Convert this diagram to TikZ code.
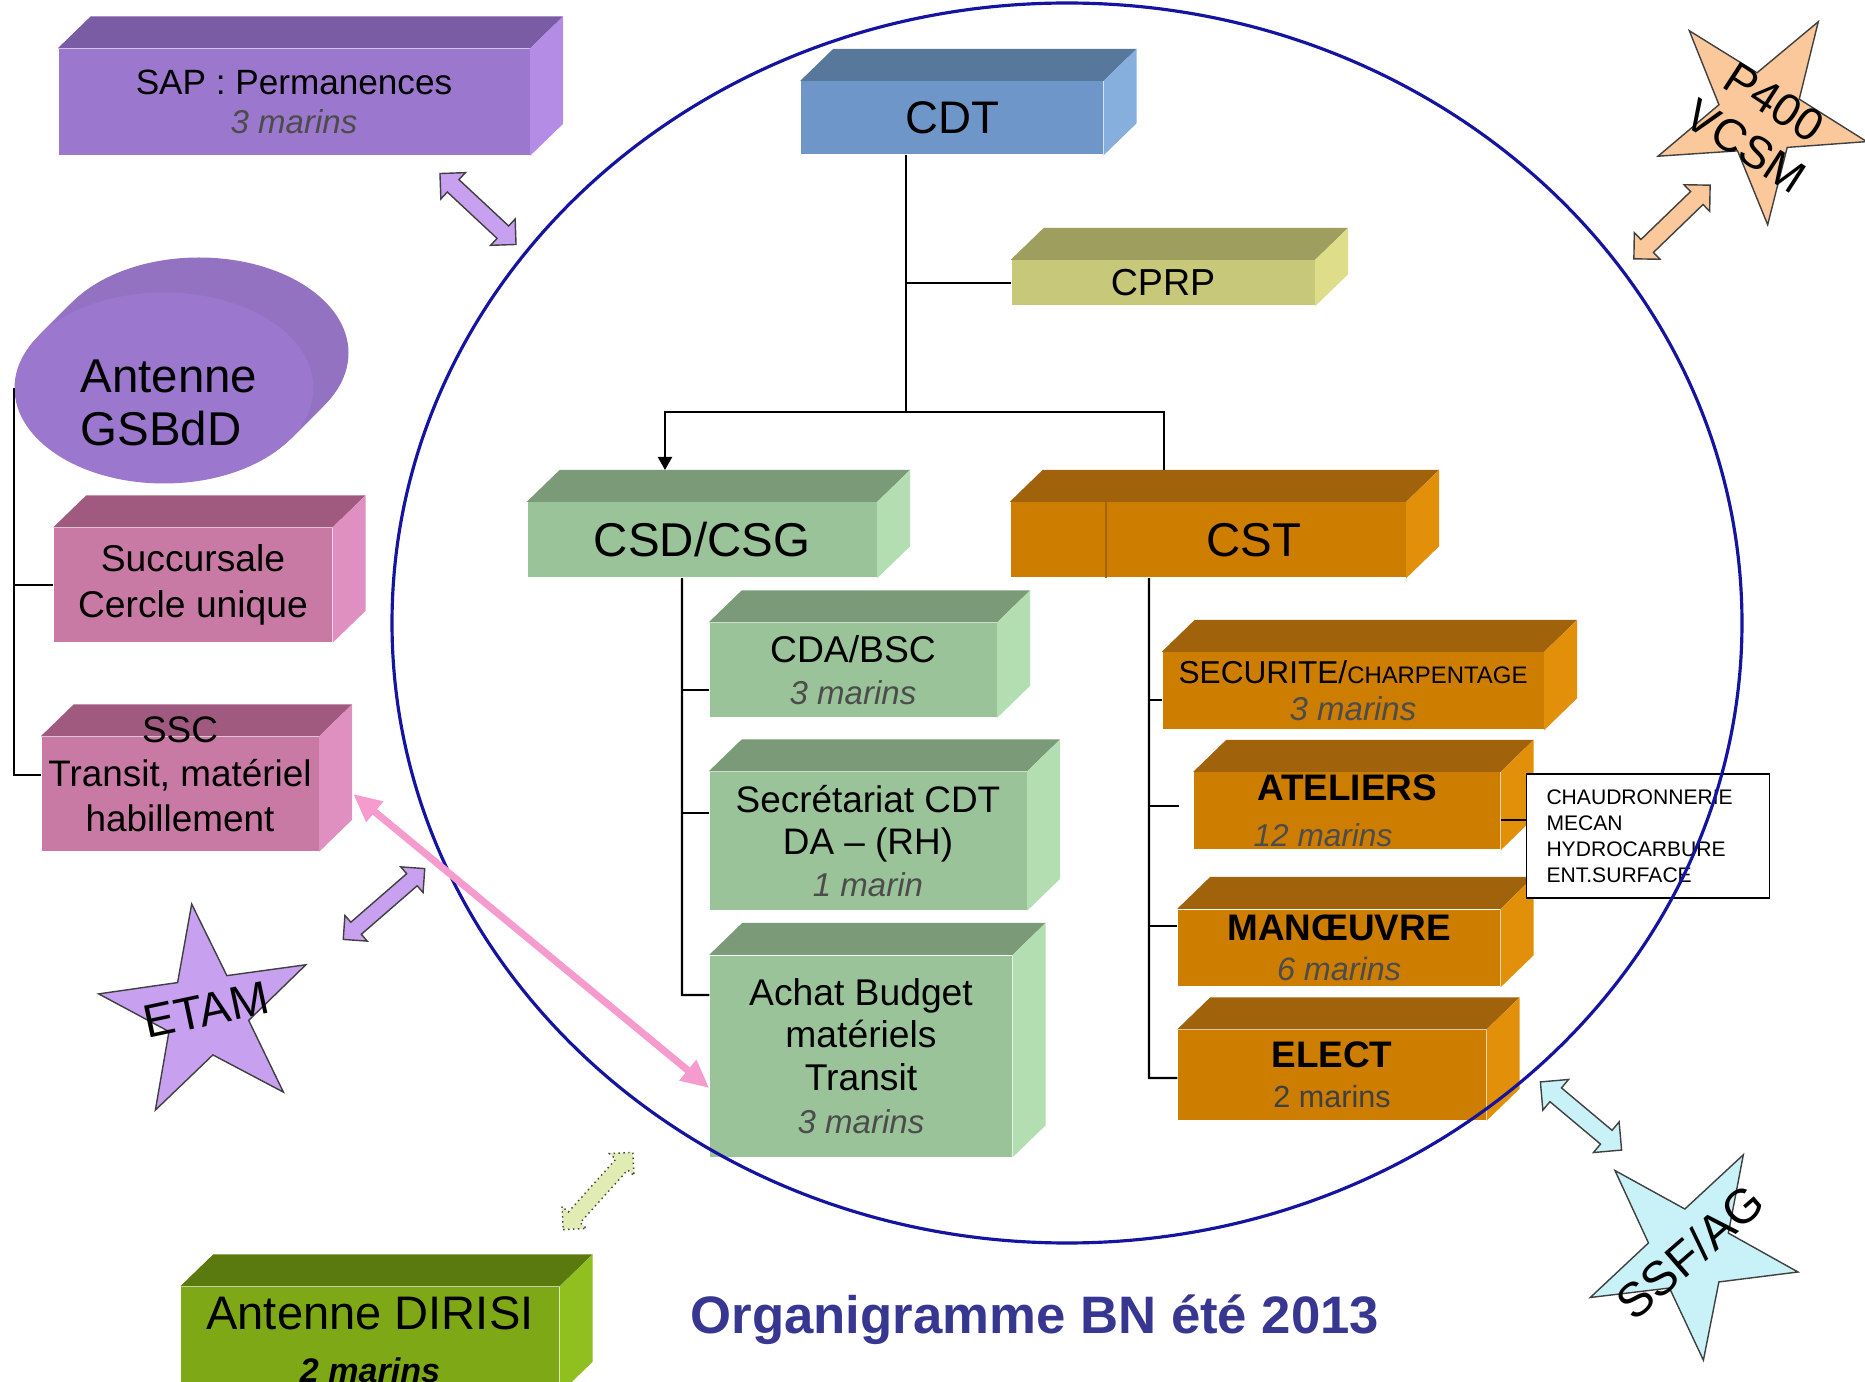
\documentclass[tikz,border=0pt]{standalone}
\usepackage{fontspec}
\setmainfont{Liberation Sans}
\usetikzlibrary{shapes.geometric,arrows.meta,backgrounds}

\definecolor{purfront}{RGB}{155,120,205}
\definecolor{purtop}{RGB}{122,92,165}
\definecolor{purside}{RGB}{180,140,230}
\definecolor{bluefront}{RGB}{110,150,200}
\definecolor{bluetop}{RGB}{88,120,155}
\definecolor{blueside}{RGB}{135,175,222}
\definecolor{khfront}{RGB}{200,200,122}
\definecolor{khtop}{RGB}{158,158,94}
\definecolor{khside}{RGB}{222,222,138}
\definecolor{grfront}{RGB}{155,195,154}
\definecolor{grtop}{RGB}{122,154,120}
\definecolor{grside}{RGB}{178,222,178}
\definecolor{orfront}{RGB}{205,125,0}
\definecolor{ortop}{RGB}{160,98,10}
\definecolor{orside}{RGB}{226,144,10}
\definecolor{pkfront}{RGB}{200,122,165}
\definecolor{pktop}{RGB}{160,90,128}
\definecolor{pkside}{RGB}{224,144,192}
\definecolor{dgfront}{RGB}{127,168,22}
\definecolor{dgtop}{RGB}{90,122,16}
\definecolor{dgside}{RGB}{144,192,32}
\definecolor{peach}{RGB}{250,200,155}
\definecolor{lav}{RGB}{200,160,240}
\definecolor{cyanlt}{RGB}{200,242,247}
\definecolor{lime}{RGB}{225,236,180}
\definecolor{pinklink}{RGB}{245,155,205}
\definecolor{bnblue}{RGB}{20,20,160}
\definecolor{titleblue}{RGB}{55,55,145}

\newcommand{\fsz}[2]{\fontsize{#1}{#2}\selectfont}
\newcommand{\crew}[1]{{\itshape\color{black!70}#1}}
% top and right faces of a box, behind its front node
\newcommand{\boxsides}[3]{%
  \begin{scope}[on background layer]
    \fill[#2] (#1.north west) -- ++(33,-32) -- ([shift={(33,-32)}]#1.north east) -- (#1.north east) -- cycle;
    \fill[#3] (#1.north east) -- ++(33,-32) -- ([shift={(33,-32)}]#1.south east) -- (#1.south east) -- cycle;
  \end{scope}}
% block arrow with two heads: style, centre, angle, half length, half head, half shaft
\newcommand{\dblarrow}[6]{%
  \begin{scope}[shift={(#2)}, rotate=#3]
    \filldraw[#1] (-#4,0) -- (-#4+#5,#5) -- (-#4+#5,#6) -- (#4-#5,#6) -- (#4-#5,#5) -- (#4,0)
      -- (#4-#5,-#5) -- (#4-#5,-#6) -- (-#4+#5,-#6) -- (-#4+#5,-#5) -- cycle;
  \end{scope}}

\begin{document}
\begin{tikzpicture}[x=0.1mm, y=-0.1mm,
  box/.style={rectangle, inner sep=0pt, align=center},
  tree/.style={line width=0.6pt},
  dbl/.style={draw=black!75, line width=0.4pt},
  starshape/.style={star, star points=5, star point ratio=2.6, minimum size=22mm, inner sep=0pt, draw=black!75, line width=0.4pt}]
  \begin{scope}[on background layer]
    \fill[white] (0,0) rectangle (1865,1382);
  \end{scope}
  \useasboundingbox (0,0) rectangle (1865,1382);

  % outside the circle
  \node [box, fill=purfront, minimum width=47.1mm, minimum height=10.6mm, font=\fsz{10}{11.1}] (sap) at (294,102) {SAP : Permanences\\\crew{\fsz{9.4}{11.1}3 marins}};
  \node [ellipse, inner sep=0pt, fill=purfront, minimum width=29.9mm, minimum height=19.1mm,
    label={[align=left, font=\fsz{13.5}{15.1}, xshift=0.5mm, yshift=-1.5mm]center:Antenne\\GSBdD}] (gsbdd) at (164,388) {};
  \node [box, fill=pkfront, minimum width=27.8mm, minimum height=11.4mm, font=\fsz{10.6}{13.1}] (succ) at (193,585) {Succursale\\Cercle unique};
  \node [box, fill=pkfront, minimum width=27.7mm, minimum height=11.4mm,
    label={[align=center, font=\fsz{10.5}{12.7}, yshift=2mm]center:SSC\\Transit, matériel\\habillement}] (ssc) at (180,794) {};
  \node [box, fill=dgfront, minimum width=37.8mm, minimum height=10.6mm, font=\fsz{13.4}{15.1}] (dirisi) at (370,1340) {Antenne DIRISI\\{\fsz{9.7}{15.1}\bfseries\itshape 2 marins}};

  % inside the circle
  \node [box, fill=bluefront, minimum width=30.2mm, minimum height=7.3mm, font=\fsz{13}{15}] (cdt) at (952,118) {CDT};
  \node [box, fill=khfront, minimum width=30.3mm, minimum height=4.5mm, font=\fsz{10.7}{12}] (cprp) at (1163,283) {CPRP};
  \node [box, fill=grfront, minimum width=34.9mm, minimum height=7.5mm, font=\fsz{13.5}{15}] (csd) at (702,540) {CSD/CSG};
  \node [box, fill=orfront, minimum width=39.5mm, minimum height=7.5mm, font=\fsz{13.5}{15}] (cst) at (1208,540) {\hspace*{9.2mm}CST};
  \node [box, fill=grfront, minimum width=28.7mm, minimum height=9.4mm, font=\fsz{10.6}{12}] (cda) at (853,670) {CDA/BSC\\\crew{\fsz{9.4}{12}3 marins}};
  \node [box, fill=grfront, minimum width=31.7mm, minimum height=13.8mm, font=\fsz{10.5}{12}] (secr) at (868,841) {Secrétariat CDT\\DA -- (RH)\\\crew{\fsz{9.4}{12}1 marin}};
  \node [box, fill=grfront, minimum width=30.2mm, minimum height=20.1mm, font=\fsz{10.6}{12.2}] (achat) at (861,1056) {Achat Budget\\matériels\\Transit\\\crew{\fsz{9.4}{12.2}3 marins}};
  \node [box, fill=orfront, minimum width=38.1mm, minimum height=7.7mm, font=\fsz{9}{10.5}] (secu) at (1353,691) {SECURITE/{\fsz{6.8}{10.5}CHARPENTAGE}\\\crew{\fsz{9.4}{10.5}3 marins}};
  \node [box, fill=orfront, minimum width=30.6mm, minimum height=7.7mm, font=\fsz{10.5}{13.1}] (atel) at (1347,811) {\textbf{ATELIERS}\\\crew{\fsz{9}{13.1}12 marins}\hspace*{4.8mm}};
  \node [box, fill=orfront, minimum width=32.2mm, minimum height=7.7mm, font=\fsz{10.5}{11.4}] (manoeuvre) at (1339,948) {\textbf{MANŒUVRE}\\\crew{\fsz{9.2}{11.4}6 marins}};
  \node [box, fill=orfront, minimum width=30.8mm, minimum height=9mm, font=\fsz{10.5}{11.4}] (elect) at (1332,1075) {\textbf{ELECT}\\{\fsz{8.7}{11.4}\color{black!75}2 marins}};
  \node [draw, line width=0.4pt, fill=white, minimum width=24.3mm, minimum height=12.4mm, text width=20.3mm, inner xsep=2mm, align=left, font=\fsz{6}{7.4}] (info) at (1648,836) {CHAUDRONNERIE\\MECAN\\HYDROCARBURE\\ENT.SURFACE};

  \boxsides{sap}{purtop}{purside}
  \boxsides{succ}{pktop}{pkside}
  \boxsides{ssc}{pktop}{pkside}
  \boxsides{dirisi}{dgtop}{dgside}
  \boxsides{cdt}{bluetop}{blueside}
  \boxsides{cprp}{khtop}{khside}
  \boxsides{csd}{grtop}{grside}
  \boxsides{cst}{ortop}{orside}
  \boxsides{cda}{grtop}{grside}
  \boxsides{secr}{grtop}{grside}
  \boxsides{achat}{grtop}{grside}
  \boxsides{secu}{ortop}{orside}
  \boxsides{atel}{ortop}{orside}
  \boxsides{manoeuvre}{ortop}{orside}
  \boxsides{elect}{ortop}{orside}
  \begin{scope}[on background layer]
    \foreach \d in {1,...,35}
      \fill[purtop!55!purside] ([shift={(\d,-\d)}]gsbdd.center) ellipse [x radius=14.95mm, y radius=9.55mm];
  \end{scope}
  \draw[orfront!80!black, line width=0.5pt] ([xshift=9.6mm]cst.north west) -- ([xshift=9.6mm]cst.south west);

  % tree
  \coordinate (cdtj) at (906,412);
  \coordinate (csdin) at (665,470);
  \coordinate (cstin) at (1164,470);
  \coordinate (csdt) at (682,995);
  \coordinate (cstt) at (1149,1078);
  \draw [tree] (cdtj |- cdt.south) -- (cdtj);
  \draw [tree] (cdtj |- cprp.west) -- (cprp.west);
  \draw [tree, -{Triangle[width=1.4mm,length=1.3mm]}] (cdtj) -| (csdin);
  \draw [tree] (cdtj) -| (cstin);
  \draw [tree] (csdt |- csd.south) -- (csdt) -- ([yshift=6.1mm]achat.west);
  \draw [tree] ([yshift=-2mm]cda.west) -- ([yshift=-2mm]cda.west -| csdt);
  \draw [tree] ([yshift=2.8mm]secr.west) -- ([yshift=2.8mm]secr.west -| csdt);
  \draw [tree] (cstt |- cst.south) -- (cstt) -- ([yshift=-0.3mm]elect.west);
  \draw [tree] ([yshift=-0.9mm]secu.west) -- ([yshift=-0.9mm]secu.west -| cstt);
  \draw [tree, shorten <=1.4mm] ([yshift=0.5mm]atel.west) -- ([yshift=0.5mm]atel.west -| cstt);
  \draw [tree] ([yshift=2.2mm]manoeuvre.west) -- ([yshift=2.2mm]manoeuvre.west -| cstt);
  \draw [tree] ([yshift=-0.9mm]atel.east) -- ([yshift=-0.9mm]atel.east -| info.west);
  \draw [tree] (gsbdd.west) |- ([yshift=1.9mm]ssc.west);
  \draw [tree] (succ.west) -- (succ.west -| gsbdd.west);

  % circle
  \node [ellipse, draw=bnblue, line width=0.9pt, inner sep=0pt, minimum width=135mm, minimum height=124mm] (bn) at (1067,623) {};

  % stars
  \node [starshape, fill=peach, rotate=-32] (p400) at (1760,115) {};
  \node [rotate=-33, align=center, font=\fsz{13}{14.9}] (p400txt) at (1760,124) {P400\\VCSM};
  \node [starshape, fill=lav, rotate=8] (etam) at (207,1013) {};
  \node [rotate=12, font=\fsz{13.3}{15}] (etamtxt) at (206,1010) {ETAM};
  \node [starshape, fill=cyanlt, rotate=-29] (ssfag) at (1690,1251) {};
  \node [rotate=41, font=\fsz{13.7}{15}] (ssfagtxt) at (1690,1252) {SSF/AG};

  % double arrows
  \coordinate (a1) at (478,209);
  \coordinate (a2) at (1672,222);
  \coordinate (a3) at (384,904);
  \coordinate (a4) at (1581,1116);
  \coordinate (a5) at (598,1191);
  \dblarrow{dbl, fill=lav}{a1}{-43}{52}{18}{8.5}
  \dblarrow{dbl, fill=peach}{a2}{44}{53}{18.5}{9}
  \dblarrow{dbl, fill=lav}{a3}{41}{54}{17}{8}
  \dblarrow{dbl, fill=cyanlt}{a4}{-40}{53}{20}{9}
  \dblarrow{dbl, fill=lime, densely dotted}{a5}{48}{52}{16.5}{8}

  \draw [pinklink, line width=2pt, {Triangle[width=2.5mm,length=2.8mm]}-{Triangle[width=2.5mm,length=2.8mm]}] ([xshift=3.4mm]ssc.east) -- ([yshift=-3.2mm]achat.west);

  \node [font=\fsz{15}{18}\bfseries, text=titleblue] (title) at (1035,1320) {Organigramme BN été 2013};
\end{tikzpicture}
\end{document}
